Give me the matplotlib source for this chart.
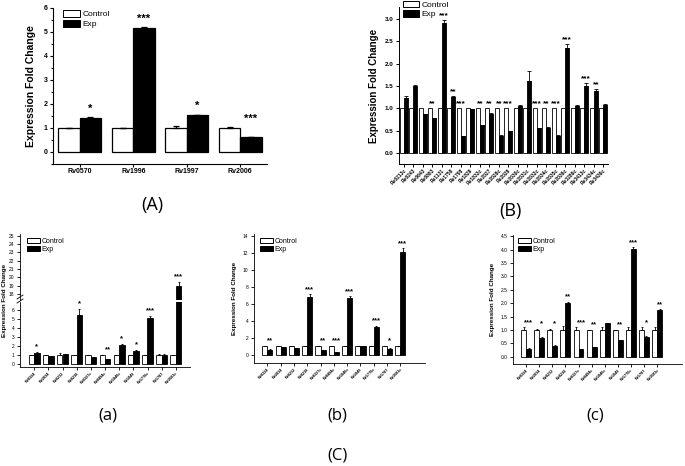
import matplotlib
matplotlib.use("Agg")
import matplotlib.pyplot as plt
import numpy as np
from matplotlib.lines import Line2D
from matplotlib.patches import Patch

plt.rcParams["font.family"] = ["Liberation Sans", "DejaVu Sans"]

W, H = 685, 466

# ---------------- data ----------------
A_genes = ["Rv0570", "Rv1996", "Rv1997", "Rv2006"]
A_ctrl = [1.0, 1.0, 1.0, 1.0]
A_ctrl_err = [0.02, 0.02, 0.07, 0.03]
A_exp = [1.42, 5.15, 1.53, 0.62]
A_exp_err = [0.02, 0.04, 0.03, 0.01]
A_sig = ["*", "***", "*", "***"]

B_genes = ["Rv0213c", "Rv0243", "Rv0643", "Rv0883", "Rv1131", "Rv1758", "Rv1798",
           "Rv1829", "Rv1832c", "Rv2027", "Rv2028c", "Rv2029", "Rv2030c", "Rv2031c",
           "Rv2032c", "Rv2034c", "Rv2035c", "Rv2036c", "Rv3286c", "Rv3413c",
           "Rv3434c", "Rv3436c"]
B_ctrl = [1.0] * 22
B_exp = [1.22, 1.50, 0.86, 0.78, 2.92, 1.25, 0.37, 0.98, 0.62, 0.88, 0.38,
         0.48, 1.06, 1.60, 0.55, 0.56, 0.38, 2.35, 1.05, 1.50, 1.38, 1.08]
B_exp_err = [0.05, 0.01, 0.01, 0.01, 0.05, 0.03, 0.01, 0.01, 0.01, 0.01, 0.01,
             0.01, 0.01, 0.23, 0.01, 0.01, 0.01, 0.09, 0.02, 0.06, 0.05, 0.01]
B_sig = ["", "", "", "**", "***", "**", "***", "", "**", "**", "**", "***", "",
         "", "***", "**", "***", "***", "", "***", "**", ""]

C_genes = ["Rv0324", "Rv2034", "Rv0232", "Rv0238", "Rv0327c", "Rv0494c",
           "Rv1846c", "Rv1049", "Rv1776c", "Rv1787", "Rv3583c"]

a_ctrl = [1.0, 1.0, 1.0, 1.0, 1.0, 1.0, 1.0, 1.0, 1.0, 1.05, 1.0]
a_ctrl_err = [0.03, 0.05, 0.2, 0.03, 0.05, 0.05, 0.05, 0.03, 0.05, 0.05, 0.03]
a_exp = [1.3, 0.9, 1.1, 5.5, 0.8, 0.55, 2.15, 1.5, 5.1, 1.05, 19.0]
a_exp_err = [0.05, 0.03, 0.05, 0.6, 0.03, 0.03, 0.1, 0.05, 0.2, 0.05, 0.5]
a_sig = ["*", "", "", "*", "", "**", "*", "*", "***", "", "***"]

b_ctrl = [1.0, 1.0, 1.0, 1.05, 1.0, 1.0, 1.0, 1.0, 1.0, 1.0, 1.0]
b_ctrl_err = [0.05, 0.05, 0.05, 0.05, 0.05, 0.05, 0.05, 0.03, 0.05, 0.05, 0.05]
b_exp = [0.6, 0.95, 0.8, 6.8, 0.55, 0.35, 6.7, 1.05, 3.3, 0.75, 12.1]
b_exp_err = [0.05, 0.03, 0.03, 0.3, 0.03, 0.03, 0.2, 0.03, 0.1, 0.05, 0.4]
b_sig = ["**", "", "", "***", "**", "***", "***", "", "***", "*", "***"]

c_ctrl = [1.0] * 11
c_ctrl_err = [0.1, 0.05, 0.05, 0.15, 0.1, 0.01, 0.1, 0.01, 0.12, 0.1, 0.12]
c_exp = [0.3, 0.72, 0.42, 2.0, 0.28, 0.37, 1.25, 0.62, 4.02, 0.75, 1.75]
c_exp_err = [0.01, 0.01, 0.01, 0.05, 0.01, 0.01, 0.01, 0.01, 0.07, 0.01, 0.03]
c_sig = ["***", "*", "*", "**", "***", "**", "", "**", "***", "*", "**"]

# ---------------- helpers ----------------
fig = plt.figure(figsize=(W / 100, H / 100), dpi=100)
fig.patch.set_facecolor("white")
LABEL_FONT = ["Open Sans", "DejaVu Sans"]


def px_axes(l, t, r, b):
    return fig.add_axes([l / W, 1 - b / H, (r - l) / W, (b - t) / H])


def style(ax, tick_fs, lw=0.8, bottom=True):
    for s in ["top", "right"]:
        ax.spines[s].set_visible(False)
    ax.spines["left"].set_linewidth(lw)
    ax.spines["bottom"].set_linewidth(lw)
    if not bottom:
        ax.spines["bottom"].set_visible(False)
    ax.tick_params(axis="y", labelsize=tick_fs, width=lw, length=2.5, pad=1.5)
    ax.tick_params(axis="x", width=lw, length=2, pad=1)
    ax.set_facecolor("none")


def bars(ax, x, ctrl, exp, w, ctrl_err=None, exp_err=None, lw=0.7, cap=1.5):
    ax.bar(x - w / 2, ctrl, w, color="white", edgecolor="black", linewidth=lw,
           yerr=None if ctrl_err is None else [np.zeros(len(x)), ctrl_err],
           error_kw=dict(ecolor="black", elinewidth=lw, capsize=cap, capthick=lw),
           zorder=2)
    ax.bar(x + w / 2, exp, w, color="black", edgecolor="black", linewidth=lw,
           yerr=None if exp_err is None else [np.zeros(len(x)), exp_err],
           error_kw=dict(ecolor="black", elinewidth=lw, capsize=cap, capthick=lw),
           zorder=2)


def legend(ax, x, y, fs, hl, hh):
    handles = [Patch(facecolor="white", edgecolor="black", linewidth=0.7, label="Control"),
               Patch(facecolor="black", edgecolor="black", linewidth=0.7, label="Exp")]
    ax.legend(handles=handles, loc="upper left", bbox_to_anchor=(x / W, 1 - y / H),
              bbox_transform=fig.transFigure, frameon=False, fontsize=fs,
              handlelength=hl, handleheight=hh, handletextpad=0.3,
              labelspacing=0.15, borderpad=0, borderaxespad=0)


# ---------------- Panel A ----------------
axA = px_axes(53, 8, 267, 164)
xA = np.arange(len(A_genes))
wA = 0.4
bars(axA, xA, A_ctrl, A_exp, wA, A_ctrl_err, A_exp_err, lw=0.9, cap=2)
axA.set_xlim(-0.5, 3.5)
axA.set_ylim(-0.5, 6)
axA.set_yticks(range(0, 7))
axA.set_xticks(xA)
axA.set_xticklabels(A_genes, fontsize=5, fontweight="bold")
style(axA, 5)
for lab in axA.get_yticklabels():
    lab.set_fontweight("bold")
axA.yaxis.set_minor_locator(matplotlib.ticker.MultipleLocator(0.5))
axA.tick_params(axis="y", which="minor", length=1.5, width=0.8)
axA.set_ylabel("Expression Fold Change", fontsize=7.5, fontweight="bold", labelpad=5)
for i in range(len(xA)):
    top = max(A_ctrl[i] + A_ctrl_err[i], A_exp[i] + A_exp_err[i])
    axA.text(xA[i] + wA / 2, top + 0.15, A_sig[i], ha="center", va="bottom",
             fontsize=8, fontweight="bold")
legend(axA, 63, 10, 6, 2.0, 0.9)
fig.text(152 / W, 1 - 205 / H, "(A)", fontsize=13, ha="center", va="center",
         family=LABEL_FONT)

# ---------------- Panel B ----------------
axB = px_axes(399, 7, 608, 164)
xB = np.arange(len(B_genes))
wB = 0.44
bars(axB, xB, B_ctrl, B_exp, wB, None, B_exp_err, lw=0.6, cap=1.2)
axB.set_xlim(-0.5, len(B_genes) - 0.5)
axB.set_ylim(-0.25, 3.27)
axB.set_yticks(np.arange(0, 3.01, 0.5))
axB.set_yticklabels([f"{v:.1f}" for v in np.arange(0, 3.01, 0.5)])
axB.set_xticks(xB)
axB.set_xticklabels(B_genes, fontsize=3.5, fontweight="bold", rotation=45,
                    ha="right", rotation_mode="anchor")
style(axB, 4.5, lw=0.7)
for lab in axB.get_yticklabels():
    lab.set_fontweight("bold")
axB.set_ylabel("Expression Fold Change", fontsize=7, fontweight="bold", labelpad=4)
for i in range(len(xB)):
    if B_sig[i]:
        top = max(B_ctrl[i], B_exp[i] + B_exp_err[i])
        xs = xB[i] + wB / 2 if B_exp[i] > B_ctrl[i] else xB[i]
        axB.text(xs, top + 0.02, B_sig[i], ha="center", va="bottom",
                 fontsize=6, fontweight="bold")
legend(axB, 403, 1, 6, 1.9, 0.8)
fig.text(510 / W, 1 - 211 / H, "(B)", fontsize=13, ha="center", va="center",
         family=LABEL_FONT)

# ---------------- Panel C (a) broken axis ----------------
x11 = np.arange(len(C_genes))
wC = 0.38

axa_lo = px_axes(20, 302, 190, 367)
axa_hi = px_axes(20, 234, 190, 300)
for ax in (axa_lo, axa_hi):
    bars(ax, x11, a_ctrl, a_exp, wC, a_ctrl_err, a_exp_err, lw=0.6, cap=1.0)
    ax.set_xlim(-1, 11)
axa_lo.set_ylim(-0.3, 6.9)
axa_lo.set_yticks(range(0, 7))
axa_hi.set_ylim(17.3, 25.2)
axa_hi.set_yticks(range(18, 26))
style(axa_lo, 3.5, lw=0.6)
style(axa_hi, 3.5, lw=0.6, bottom=False)
axa_hi.set_xticks([])
axa_lo.set_xticks(x11)
axa_lo.set_xticklabels(C_genes, fontsize=2.8, fontweight="bold", rotation=45,
                       ha="right", rotation_mode="anchor")
for i in range(len(x11)):
    if a_sig[i]:
        top = max(a_ctrl[i] + a_ctrl_err[i], a_exp[i] + a_exp_err[i])
        ax = axa_hi if top > 7 else axa_lo
        ax.text(x11[i] + wC / 2, top + 0.2, a_sig[i], ha="center", va="bottom",
                fontsize=5.5, fontweight="bold")
fig.text(5 / W, 1 - 300 / H, "Expression Fold Change", rotation=90, fontsize=4.5,
         fontweight="bold", ha="center", va="center")
# break marks
for yy in (297, 301):
    fig.add_artist(Line2D([17 / W, 23 / W], [1 - (yy + 2) / H, 1 - (yy - 2) / H],
                          color="black", lw=0.6))
legend(axa_hi, 27, 238, 5, 1.8, 0.8)
fig.text(108 / W, 1 - 415 / H, "(a)", fontsize=12, ha="center", va="center",
         family=LABEL_FONT)

# ---------------- Panel C (b) ----------------
axb = px_axes(254, 234, 425, 363)
bars(axb, x11, b_ctrl, b_exp, wC, b_ctrl_err, b_exp_err, lw=0.6, cap=1.0)
axb.set_xlim(-1, 11.85)
axb.set_ylim(-0.95, 14.2)
axb.set_yticks(range(0, 15, 2))
axb.set_xticks(x11)
axb.set_xticklabels(C_genes, fontsize=2.8, fontweight="bold", rotation=45,
                    ha="right", rotation_mode="anchor")
style(axb, 3.5, lw=0.6)
axb.set_ylabel("Expression Fold Change", fontsize=4.5, fontweight="bold", labelpad=4)
for i in range(len(x11)):
    if b_sig[i]:
        top = max(b_ctrl[i] + b_ctrl_err[i], b_exp[i] + b_exp_err[i])
        axb.text(x11[i] + wC / 2, top + 0.15, b_sig[i], ha="center", va="bottom",
                 fontsize=5.5, fontweight="bold")
legend(axb, 260, 238, 5, 1.8, 0.8)
fig.text(337 / W, 1 - 415 / H, "(b)", fontsize=12, ha="center", va="center",
         family=LABEL_FONT)
fig.text(337 / W, 1 - 455 / H, "(C)", fontsize=12, ha="center", va="center",
         family=LABEL_FONT)

# ---------------- Panel C (c) ----------------
axc = px_axes(513, 235, 682, 364)
bars(axc, x11, c_ctrl, c_exp, wC, c_ctrl_err, c_exp_err, lw=0.6, cap=1.0)
axc.set_xlim(-1, 11.9)
axc.set_ylim(-0.27, 4.55)
axc.set_yticks(np.arange(0, 4.51, 0.5))
axc.set_yticklabels([f"{v:.1f}" for v in np.arange(0, 4.51, 0.5)])
axc.set_xticks(x11)
axc.set_xticklabels(C_genes, fontsize=2.8, fontweight="bold", rotation=45,
                    ha="right", rotation_mode="anchor")
style(axc, 3.5, lw=0.6)
axc.set_ylabel("Expression Fold Change", fontsize=4.5, fontweight="bold", labelpad=4)
for i in range(len(x11)):
    if c_sig[i]:
        top = max(c_ctrl[i] + c_ctrl_err[i], c_exp[i] + c_exp_err[i])
        axc.text(x11[i] + wC / 2, top + 0.05, c_sig[i], ha="center", va="bottom",
                 fontsize=5.5, fontweight="bold")
legend(axc, 518, 238, 5, 1.8, 0.8)
fig.text(595 / W, 1 - 415 / H, "(c)", fontsize=12, ha="center", va="center",
         family=LABEL_FONT)

fig.savefig("out.png", dpi=100)
